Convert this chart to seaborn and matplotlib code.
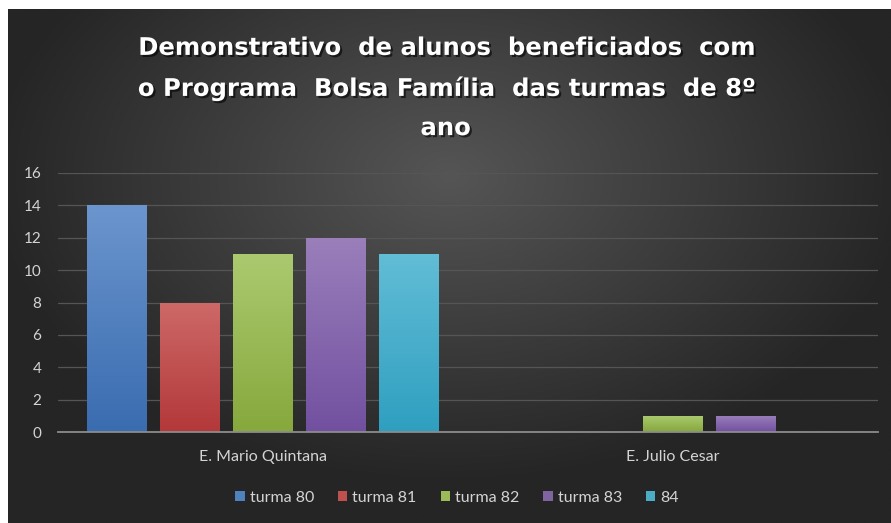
import numpy as np
import pandas as pd
import seaborn as sns
import matplotlib.pyplot as plt
import matplotlib.patheffects as pe
from matplotlib.patches import Patch
from matplotlib.colors import to_rgb

# dados do grafico
escolas = ["E. Mario Quintana", "E. Julio Cesar"]
turmas = ["turma 80", "turma 81", "turma 82", "turma 83", "84"]
mario_quintana = [14, 8, 11, 12, 11]
julio_cesar = [0, 0, 1, 1, 0]
y_ticks = [0, 2, 4, 6, 8, 10, 12, 14, 16]

titulo = "Demonstrativo  de alunos  beneficiados  com\no Programa  Bolsa Família  das turmas  de 8º\nano"

# cores (base, topo, fundo do gradiente)
cores = ["#4f81bd", "#c0504d", "#9bbb59", "#8064a2", "#4bacc6"]
cores_topo = ["#6b95cd", "#cd6967", "#abca70", "#9a7fbb", "#62bdd6"]
cores_base = ["#3a6cb0", "#b3383a", "#86a83c", "#7250a0", "#2f9fc0"]

df = pd.DataFrame({
    "escola": np.repeat(escolas, len(turmas)),
    "turma": turmas * len(escolas),
    "alunos": mario_quintana + julio_cesar,
})

sns.set_theme(style="dark")
plt.rcParams["font.family"] = ["Lato", "DejaVu Sans"]

fig = plt.figure(figsize=(8.91, 5.23), dpi=100)
fig.patch.set_facecolor("white")

# fundo escuro com gradiente radial
bg = fig.add_axes([8 / 891, 0, 883 / 891, 514 / 523], zorder=-10)
gx, gy = np.meshgrid(np.linspace(-1, 1, 400), np.linspace(-1, 1, 240))
r = np.sqrt(((gx - 0.0) / 1.05) ** 2 + ((gy + 0.35) / 1.2) ** 2)
r = np.clip(r, 0, 1)
c0 = np.array(to_rgb("#555555"))
c1 = np.array(to_rgb("#252525"))
img = c0[None, None, :] * (1 - r[..., None]) + c1[None, None, :] * r[..., None]
bg.imshow(img, aspect="auto", extent=(0, 1, 0, 1), origin="upper")
bg.set_axis_off()

ax = fig.add_axes([58 / 891, 91 / 523, 820 / 891, 259 / 523])
ax.patch.set_alpha(0)

sns.barplot(data=df, x="escola", y="alunos", hue="turma", hue_order=turmas,
            order=escolas, palette=cores, width=0.89, gap=0.19,
            saturation=1, ax=ax, legend=False, edgecolor="none")

# gradiente vertical em cada barra
for i, cont in enumerate(ax.containers):
    top = np.array(to_rgb(cores_topo[i]))
    bot = np.array(to_rgb(cores_base[i]))
    t = np.linspace(0, 1, 100)[:, None]
    grad = (top * (1 - t) + bot * t)[:, None, :]
    for bar in cont.patches:
        h = bar.get_height()
        if h <= 0:
            continue
        x0 = bar.get_x()
        w = bar.get_width()
        im = ax.imshow(grad, extent=(x0, x0 + w, 0, h), aspect="auto",
                       origin="upper", zorder=2.5)
        im.set_clip_path(bar)

ax.set_xlim(-0.5, 1.5)
ax.set_ylim(0, 16)
ax.set_yticks(y_ticks)
ax.set_xlabel("")
ax.set_ylabel("")

ax.grid(axis="y", color="#555555", linewidth=0.9)
ax.grid(axis="x", visible=False)
ax.set_axisbelow(True)
for s in ["top", "right", "left"]:
    ax.spines[s].set_visible(False)
ax.spines["bottom"].set_color("#8c8c8c")
ax.spines["bottom"].set_linewidth(1.3)
ax.tick_params(axis="both", length=0, colors="#d4d4d4", labelsize=11)
ax.tick_params(axis="x", labelsize=11.5, pad=13)
ax.tick_params(axis="y", pad=12)

fig.text(0.5, 1 - 88 / 523, titulo, ha="center", va="center",
         fontsize=17.5, fontweight="bold", color="white", linespacing=1.8,
         family=["DejaVu Sans"],
         path_effects=[pe.withSimplePatchShadow(offset=(1.5, -1.5),
                                                shadow_rgbFace="black", alpha=0.6)])

handles = [Patch(facecolor=c, edgecolor="none") for c in cores]
fig.legend(handles, turmas, loc="center", bbox_to_anchor=(457 / 891, 1 - 498 / 523),
           ncol=5, frameon=False, fontsize=11.5, labelcolor="#d4d4d4",
           handlelength=0.6, handleheight=0.6, handletextpad=0.3, columnspacing=1.5)

fig.savefig("out.png", dpi=100)
